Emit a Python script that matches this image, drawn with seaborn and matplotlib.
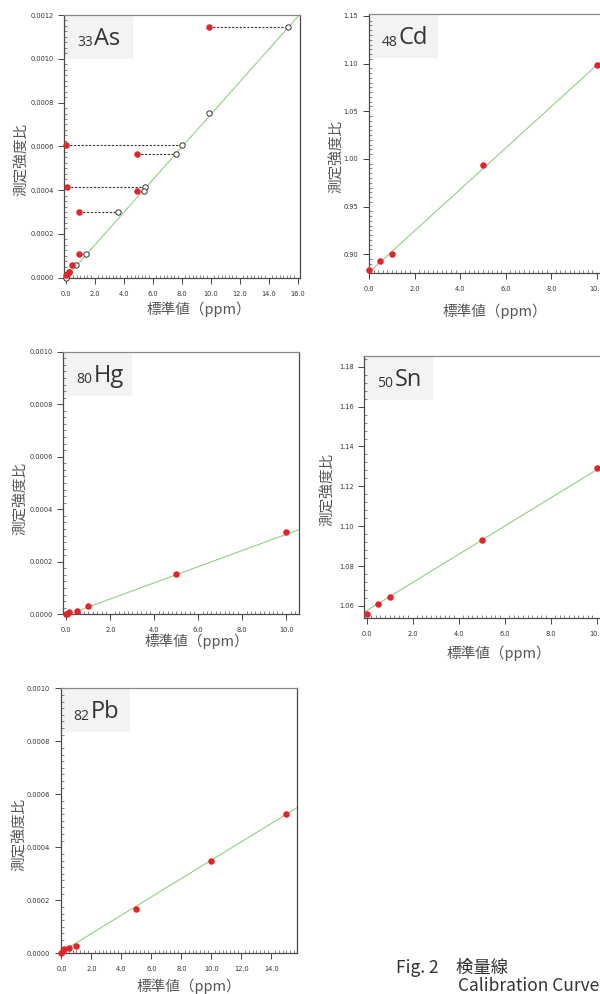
import seaborn as sns
import matplotlib.pyplot as plt
from matplotlib.ticker import MultipleLocator, FormatStrFormatter
from matplotlib.patches import Rectangle

# --- data ---
# As: red = measured (standard value), open = position found on the curve
as_meas_x = [9.9, 0.0, 4.9, 0.1, 4.9, 0.9, 0.9, 0.4, 0.2, 0.0]
as_meas_y = [0.001144, 0.000605, 0.000565, 0.000416, 0.000396, 0.000300, 0.000108, 0.000057, 0.000025, 0.000012]
as_found_x = [15.31, 8.04, 7.60, 5.49, 5.42, 3.60, 1.40, 0.69, 0.23, 0.10]
as_extra_x = [0.0, 9.9]
as_extra_y = [0.0, 0.000754]
as_fit_x = [0.0, 16.2]
as_fit_y = [0.0, 0.001207]

cd_x = [0.0, 0.5, 1.0, 5.0, 10.0]
cd_y = [0.883, 0.893, 0.900, 0.994, 1.099]
cd_fit_x = [0.0, 10.3]
cd_fit_y = [0.881, 1.105]

hg_x = [0.0, 0.05, 0.1, 0.5, 1.0, 5.0, 10.0]
hg_y = [0.000001, 0.000003, 0.000007, 0.000013, 0.000031, 0.000155, 0.000313]
hg_fit_x = [0.1, 10.6]
hg_fit_y = [0.0, 0.000323]

sn_x = [0.0, 0.5, 1.0, 5.0, 10.0]
sn_y = [1.056, 1.061, 1.0645, 1.093, 1.129]
sn_fit_x = [-0.1, 10.35]
sn_fit_y = [1.0569, 1.1308]

pb_x = [0.0, 0.1, 0.2, 0.5, 1.0, 5.0, 10.0, 15.0]
pb_y = [0.000002, 0.000010, 0.000015, 0.000020, 0.000029, 0.000166, 0.000349, 0.000527]
pb_fit_x = [0.0, 15.8]
pb_fit_y = [0.000005, 0.000553]

RED = "#e0262b"
GREEN = "#93cd84"

sns.set_style("ticks")
plt.rcParams["font.family"] = ["Noto Sans CJK JP", "DejaVu Sans"]

fig = plt.figure(figsize=(6, 9.94), dpi=100)


def add_panel(l, t, r, b):
    return fig.add_axes([l / 600, 1 - b / 994, (r - l) / 600, (b - t) / 994])


def style(ax, xlim, ylim, xminor, ystep, yminor, yfmt, sub, sym, xlab, ylab):
    ax.set_xlim(xlim)
    ax.set_ylim(ylim)
    ax.xaxis.set_major_locator(MultipleLocator(2))
    ax.xaxis.set_minor_locator(MultipleLocator(xminor))
    ax.yaxis.set_major_locator(MultipleLocator(ystep))
    ax.yaxis.set_minor_locator(MultipleLocator(yminor))
    ax.xaxis.set_major_formatter(FormatStrFormatter("%.1f"))
    ax.yaxis.set_major_formatter(FormatStrFormatter(yfmt))
    ax.tick_params(which="major", direction="out", length=4, width=0.7, color="#444",
                   labelsize=4.8, labelcolor="#333", labelfontfamily="DejaVu Sans")
    ax.tick_params(axis="x", which="major", pad=5.5)
    ax.tick_params(axis="y", which="major", pad=3.5)
    ax.tick_params(which="minor", direction="in", length=2, width=0.5, color="#555")
    for s in ["left", "bottom", "right"]:
        ax.spines[s].set_color("#4a4a4a")
        ax.spines[s].set_linewidth(0.9)
    ax.spines["top"].set_color("#8a8a8a")
    ax.spines["top"].set_linewidth(0.9)

    ax.set_xlabel("標準値（ppm）", fontsize=10.5, color="#555")
    ax.xaxis.set_label_coords(*xlab)
    ax.xaxis.label.set_va("center")
    ax.set_ylabel("測定強度比", fontsize=10.5, color="#555")
    ax.yaxis.set_label_coords(*ylab)
    ax.yaxis.label.set_va("center")

    # element label box
    bb = ax.get_position()
    w = 69 / (bb.width * 600)
    h = 44 / (bb.height * 994)
    ax.add_patch(Rectangle((0, 1 - h), w, h, transform=ax.transAxes,
                           facecolor="#f2f3f2", lw=0, zorder=0.5))
    ax.annotate(sub, xy=(0, 1), xycoords="axes fraction", xytext=(13, -31.5),
                textcoords="offset pixels", fontsize=10, color="#333",
                family="Open Sans", va="baseline", ha="left")
    ax.annotate(sym, xy=(0, 1), xycoords="axes fraction", xytext=(30.5, -30),
                textcoords="offset pixels", fontsize=17, color="#333",
                family="Open Sans", va="baseline", ha="left")


# ---- As ----
ax = add_panel(64, 15, 300, 277.7)
sns.lineplot(x=as_fit_x, y=as_fit_y, ax=ax, color=GREEN, lw=0.8)
for mx, fx, y in zip(as_meas_x, as_found_x, as_meas_y):
    ax.plot([mx, fx], [y, y], color="#333", lw=0.8, ls=(0, (2, 1.4)), zorder=2)
sns.scatterplot(x=as_found_x + as_extra_x, y=as_meas_y + as_extra_y, ax=ax,
                color="white", edgecolor="#333", linewidth=0.7, s=15, zorder=3, clip_on=False)
sns.scatterplot(x=as_meas_x, y=as_meas_y, ax=ax, color=RED, linewidth=0, s=22,
                zorder=4, clip_on=False)
style(ax, (-0.12, 16.16), (0, 0.0012), 0.25, 0.0002, 0.000025, "%.4f", "33", "As",
      (0.57, -0.122), (-42 / 236, 0.45))

# ---- Cd ----
ax = add_panel(368.5, 14, 604.5, 273.3)
sns.lineplot(x=cd_fit_x, y=cd_fit_y, ax=ax, color=GREEN, lw=0.8)
sns.scatterplot(x=cd_x, y=cd_y, ax=ax, color=RED, linewidth=0, s=22, zorder=4, clip_on=False)
style(ax, (-0.02, 10.33), (0.880, 1.152), 0.2, 0.05, 0.005, "%.2f", "48", "Cd",
      (0.537, -0.147), (-31 / 236, 0.45))

# ---- Hg ----
ax = add_panel(63.3, 351.7, 299, 614.3)
sns.lineplot(x=hg_fit_x, y=hg_fit_y, ax=ax, color=GREEN, lw=0.8)
sns.scatterplot(x=hg_x, y=hg_y, ax=ax, color=RED, linewidth=0, s=22, zorder=4, clip_on=False)
style(ax, (-0.14, 10.58), (0, 0.0010), 0.2, 0.0002, 0.000025, "%.4f", "80", "Hg",
      (0.567, -0.104), (-42.6 / 236, 0.44))

# ---- Sn ----
ax = add_panel(364.3, 356, 602, 617.7)
sns.lineplot(x=sn_fit_x, y=sn_fit_y, ax=ax, color=GREEN, lw=0.8)
sns.scatterplot(x=sn_x, y=sn_y, ax=ax, color=RED, linewidth=0, s=22, zorder=4, clip_on=False)
style(ax, (-0.1, 10.23), (1.0541, 1.1854), 0.2, 0.02, 0.004, "%.2f", "50", "Sn",
      (0.566, -0.135), (-36 / 236, 0.49))

# ---- Pb ----
ax = add_panel(60.7, 688.3, 297.3, 953.3)
sns.lineplot(x=pb_fit_x, y=pb_fit_y, ax=ax, color=GREEN, lw=0.8)
sns.scatterplot(x=pb_x, y=pb_y, ax=ax, color=RED, linewidth=0, s=22, zorder=4, clip_on=False)
style(ax, (-0.05, 15.72), (0, 0.0010), 0.25, 0.0002, 0.000025, "%.4f", "82", "Pb",
      (0.542, -0.123), (-40.7 / 236.6, 0.45))

# caption
fig.text(396 / 600, 1 - 973 / 994, "Fig. 2\u3000検量線", fontsize=12.5, color="#333", va="baseline")
fig.text(458 / 600, 1 - 991 / 994, "Calibration Curve", fontsize=12.5, color="#333", va="baseline")

fig.savefig("out.png", dpi=100)
